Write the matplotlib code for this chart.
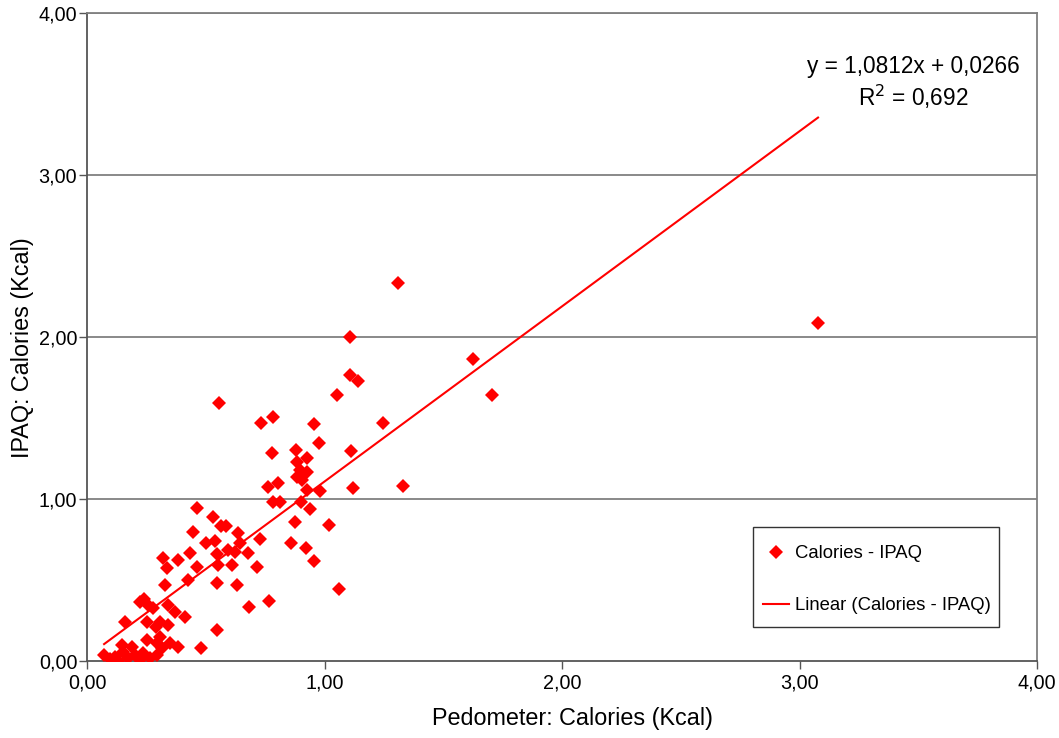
import matplotlib
matplotlib.use("Agg")
import matplotlib.pyplot as plt
from matplotlib.ticker import FuncFormatter, FixedLocator
from matplotlib.patches import Rectangle
import numpy as np

plt.rcParams['font.family'] = ['Liberation Sans', 'DejaVu Sans']

# Pedometer calories (x) vs IPAQ calories (y)
pedometer = [
    1.309, 1.107, 1.625, 3.078, 1.107, 1.141, 1.053, 1.705, 0.556, 0.783,
    0.733, 0.956, 1.246, 0.977, 0.779, 0.880, 1.112, 0.926, 0.884, 0.897,
    0.926, 0.884, 0.905, 0.762, 0.804, 1.331, 1.120, 0.981, 0.926, 0.783,
    0.813, 0.901, 0.939, 1.019, 0.876, 0.922, 0.859, 0.956, 1.061, 0.766,
    0.682, 0.547, 0.480, 0.463, 0.531, 0.446, 0.564, 0.585, 0.728, 0.636,
    0.501, 0.539, 0.644, 0.623, 0.678, 0.434, 0.547, 0.594, 0.611, 0.463,
    0.552, 0.716, 0.425, 0.547, 0.632, 0.320, 0.383, 0.337, 0.328, 0.413,
    0.223, 0.257, 0.278, 0.240, 0.341, 0.371, 0.307, 0.341, 0.253, 0.160,
    0.253, 0.307, 0.349, 0.383, 0.316, 0.295, 0.072, 0.097, 0.118, 0.147,
    0.152, 0.173, 0.202, 0.189, 0.236, 0.265, 0.223, 0.131, 0.295, 0.290,
]
ipaq = [
    2.333, 2.000, 1.864, 2.086, 1.765, 1.728, 1.642, 1.642, 1.593, 1.506,
    1.469, 1.463, 1.469, 1.346, 1.284, 1.302, 1.296, 1.253, 1.228, 1.179,
    1.167, 1.136, 1.117, 1.074, 1.099, 1.080, 1.068, 1.049, 1.056, 0.981,
    0.981, 0.981, 0.938, 0.840, 0.858, 0.698, 0.728, 0.617, 0.444, 0.370,
    0.333, 0.191, 0.080, 0.944, 0.889, 0.796, 0.833, 0.833, 0.753, 0.790,
    0.728, 0.741, 0.728, 0.673, 0.667, 0.667, 0.660, 0.685, 0.593, 0.580,
    0.593, 0.580, 0.500, 0.481, 0.469, 0.636, 0.623, 0.574, 0.469, 0.272,
    0.364, 0.346, 0.327, 0.383, 0.346, 0.302, 0.241, 0.222, 0.241, 0.241,
    0.130, 0.148, 0.111, 0.086, 0.080, 0.111, 0.037, 0.012, 0.025, 0.099,
    0.056, 0.019, 0.037, 0.086, 0.049, 0.019, 0.006, 0.000, 0.037, 0.210,
]

# Linear trend coefficients as printed on the chart
slope = 1.0812
intercept = 0.0266
r_squared = 0.692

ticks = [0, 1, 2, 3, 4]

fig = plt.figure(figsize=(10.59, 7.38), dpi=100)
ax = fig.add_axes([87/1059, 1 - 661/738, (1037-87)/1059, (661-13)/738])

ax.set_xlim(0, 4)
ax.set_ylim(0, 4)

for yv in ticks[1:]:
    ax.axhline(yv, color='#808080', lw=1.3, zorder=1)

ax.plot(pedometer, ipaq, linestyle='none', marker='D', markersize=7.4,
        markeredgewidth=0, color='#FF0000', label='Calories - IPAQ', zorder=3)

xl = np.array([min(pedometer), max(pedometer)])
ax.plot(xl, slope * xl + intercept, color='#FF0000', lw=1.5,
        label='Linear (Calories - IPAQ)', zorder=4)

ax.xaxis.set_major_locator(FixedLocator(ticks))
ax.yaxis.set_major_locator(FixedLocator(ticks))
fmt = FuncFormatter(lambda v, p: f"{v:.2f}".replace('.', ','))
ax.xaxis.set_major_formatter(fmt)
ax.yaxis.set_major_formatter(fmt)
ax.tick_params(direction='out', length=6, width=1, colors='#555555',
               labelcolor='black', labelsize=14.2)
ax.tick_params(axis='y', pad=1)
ax.tick_params(axis='x', pad=3)

for s in ['left', 'bottom']:
    ax.spines[s].set_color('#555555')
    ax.spines[s].set_linewidth(1.3)
for s in ['top', 'right']:
    ax.spines[s].set_color('#808080')
    ax.spines[s].set_linewidth(1.3)

ax.set_xlabel('Pedometer: Calories (Kcal)', fontsize=16.8)
ax.set_ylabel('IPAQ: Calories (Kcal)', fontsize=16.8)
ax.xaxis.set_label_coords((572-87)/950, (661-707)/648)
ax.yaxis.set_label_coords((34-87)/950, (661-348)/648)

fig.text(913/1059, 1 - 66/738,
         f"y = {slope:.4f}x + {intercept:.4f}".replace('.', ','),
         ha='center', va='center', fontsize=16.3)
fig.text(913/1059, 1 - 97/738,
         f"R$^2$ = {r_squared:.3f}".replace('.', ','),
         ha='center', va='center', fontsize=16.3)

# legend frame
ax.add_patch(Rectangle(((753-87)/950, (661-627)/648), (999-753)/950,
                       (627-527)/648, transform=ax.transAxes, facecolor='white',
                       edgecolor='#333333', lw=1.0, zorder=5))
leg = ax.legend(loc='upper left', bbox_to_anchor=((763-87)/950, (661-545)/648),
                fontsize=13.3, frameon=False, borderaxespad=0, borderpad=0,
                labelspacing=1.9, handlelength=1.4, handletextpad=0.32)
leg.set_zorder(6)

fig.savefig('out.png', dpi=100)
